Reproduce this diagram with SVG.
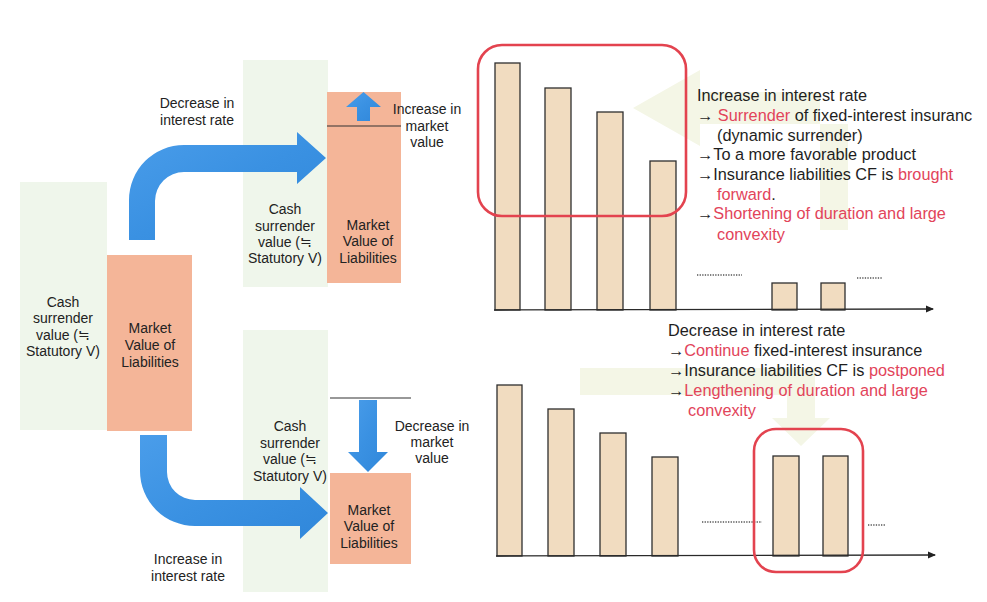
<svg xmlns="http://www.w3.org/2000/svg" width="987" height="602" viewBox="0 0 987 602">
  <defs>
    <linearGradient id="blueFill" x1="0" y1="0" x2="1" y2="1">
      <stop offset="0" stop-color="#4a9dea"/>
      <stop offset="0.5" stop-color="#3a91e2"/>
      <stop offset="1" stop-color="#3087da"/>
    </linearGradient>
    <marker id="axisHead" markerWidth="8" markerHeight="8" refX="7" refY="4" orient="auto" markerUnits="userSpaceOnUse">
      <path d="M0,0.5 L8,4 L0,7.5 Z" fill="#222"/>
    </marker>
    <style>
      .lbl { font-family: "Liberation Sans", Arial, "Noto Sans CJK JP", sans-serif; font-size: 14px; fill: #222; text-anchor: middle; }
      .note { font-family: "Liberation Sans", Arial, "Noto Sans CJK JP", sans-serif; font-size: 16.3px; fill: #1e1e1e; }
      .red { fill: #e2445a; }
      .liab { fill: #f4b598; }
      .bar { fill: #f1dcc0; stroke: #2e2e2e; stroke-width: 1.3; }
      .frame { fill: none; stroke: #e3434f; stroke-width: 2.6; }
      .axis { stroke: #2a2a2a; stroke-width: 1.3; fill: none; }
      .dots { stroke: #555; stroke-width: 1.3; stroke-dasharray: 1.3 1.3; }
      .level { stroke: #333; stroke-width: 1.1; }
      .blue { fill: url(#blueFill); }
      .ghostG { fill: #eff6eb; }
      .ghostY { fill: #f4f6e6; }
    </style>
  </defs>

  <rect width="987" height="602" fill="#ffffff"/>

  <!-- faint background panels -->
  <g id="backdrop">
    <rect class="ghostG" x="20" y="182" width="87" height="248"/>
    <rect class="ghostG" x="243" y="60" width="85" height="227"/>
    <rect class="ghostG" x="243" y="330" width="85" height="262"/>
    <path class="ghostY" d="M700,70 L700,92 L820,92 L820,230 L848,230 L848,124 L700,124 L700,146 L633,108 Z"/>
    <path class="ghostY" d="M580,368 L787,368 L787,395 L580,395 Z M787,368 L815,368 L815,418 L830,418 L801,446 L772,418 L787,418 Z"/>
  </g>

  <!-- connectors: interest-rate arrows and value-change arrows -->
  <g id="connectors">
    <path class="blue" d="M129,240 V200 A55,55 0 0 1 184,145 H297 V132 L326,158 L297,184 V172 H184 A29,29 0 0 0 155,201 V240 Z"/>
    <path class="blue" d="M140,435 V471 A55,55 0 0 0 195,526 H300 V539 L328,513 L300,487 V500 H195 A28,28 0 0 1 167,472 V435 Z"/>
  </g>

  <!-- left: current liabilities -->
  <g id="liab-now">
    <rect class="liab" x="107" y="255" width="85" height="176"/>
    <text class="lbl" x="150" y="333">Market</text>
    <text class="lbl" x="150" y="350">Value of</text>
    <text class="lbl" x="150" y="367">Liabilities</text>
  </g>
  <g id="csv-now">
    <text class="lbl" x="63" y="307">Cash</text>
    <text class="lbl" x="63" y="323">surrender</text>
    <text class="lbl" x="63" y="340">value (≒</text>
    <text class="lbl" x="63" y="356">Statutory V)</text>
  </g>

  <!-- upper branch: rate falls -->
  <g id="label-rate-down">
    <text class="lbl" x="197" y="108">Decrease in</text>
    <text class="lbl" x="197" y="125">interest rate</text>
  </g>
  <g id="liab-up">
    <rect class="liab" x="327" y="92" width="74" height="191"/>
    <line class="level" x1="327" y1="126" x2="401" y2="126"/>
    <path class="blue" d="M357,121 V107 H346 L363.5,92 L381,107 H370 V121 Z"/>
    <text class="lbl" x="368" y="230">Market</text>
    <text class="lbl" x="368" y="246">Value of</text>
    <text class="lbl" x="368" y="263">Liabilities</text>
  </g>
  <g id="label-mv-up">
    <text class="lbl" x="427" y="114">Increase in</text>
    <text class="lbl" x="427" y="131">market</text>
    <text class="lbl" x="427" y="147">value</text>
  </g>
  <g id="csv-up">
    <text class="lbl" x="285" y="214">Cash</text>
    <text class="lbl" x="285" y="231">surrender</text>
    <text class="lbl" x="285" y="247">value (≒</text>
    <text class="lbl" x="285" y="263">Statutory V)</text>
  </g>

  <!-- lower branch: rate rises -->
  <g id="liab-down">
    <line class="level" x1="330" y1="398" x2="411" y2="398"/>
    <path class="blue" d="M359,400 H377 V452 H388 L368,472 L348,452 H359 Z"/>
    <rect class="liab" x="330" y="473" width="81" height="91"/>
    <text class="lbl" x="369" y="515">Market</text>
    <text class="lbl" x="369" y="531">Value of</text>
    <text class="lbl" x="369" y="548">Liabilities</text>
  </g>
  <g id="label-mv-down">
    <text class="lbl" x="432" y="431">Decrease in</text>
    <text class="lbl" x="432" y="447">market</text>
    <text class="lbl" x="432" y="463">value</text>
  </g>
  <g id="csv-down">
    <text class="lbl" x="290" y="431">Cash</text>
    <text class="lbl" x="290" y="448">surrender</text>
    <text class="lbl" x="290" y="464">value (≒</text>
    <text class="lbl" x="290" y="481">Statutory V)</text>
  </g>
  <g id="label-rate-up">
    <text class="lbl" x="188" y="564">Increase in</text>
    <text class="lbl" x="188" y="581">interest rate</text>
  </g>

  <!-- upper cash-flow chart: surrenders pull CF forward -->
  <g id="cf-forward">
    <rect class="bar" x="495" y="63" width="25" height="247"/>
    <rect class="bar" x="545" y="88" width="26" height="222"/>
    <rect class="bar" x="597" y="112" width="26" height="198"/>
    <rect class="bar" x="650" y="161" width="26" height="149"/>
    <rect class="bar" x="772" y="283" width="25" height="27"/>
    <rect class="bar" x="821" y="283" width="24" height="27"/>
    <line class="dots" x1="697" y1="275" x2="742" y2="275"/>
    <line class="dots" x1="857" y1="278" x2="883" y2="278"/>
    <line class="axis" x1="494" y1="310" x2="933" y2="309" marker-end="url(#axisHead)"/>
    <rect class="frame" x="478" y="45" width="208" height="171" rx="24"/>
  </g>
  <g id="note-rate-up">
    <text class="note" x="697" y="101">Increase in interest rate</text>
    <text class="note" x="697" y="121">→ <tspan class="red">Surrender</tspan> of fixed-interest insuranc</text>
    <text class="note" x="717" y="141">(dynamic surrender)</text>
    <text class="note" x="697" y="160">→To a more favorable product</text>
    <text class="note" x="697" y="180">→Insurance liabilities CF is <tspan class="red">brought</tspan></text>
    <text class="note" x="717" y="200"><tspan class="red">forward</tspan>.</text>
    <text class="note" x="697" y="219">→<tspan class="red">Shortening of duration and large</tspan></text>
    <text class="note red" x="717" y="240">convexity</text>
  </g>

  <!-- lower cash-flow chart: continued policies push CF back -->
  <g id="cf-postponed">
    <rect class="bar" x="497" y="385" width="25" height="171"/>
    <rect class="bar" x="548" y="409" width="26" height="147"/>
    <rect class="bar" x="600" y="433" width="26" height="123"/>
    <rect class="bar" x="652" y="457" width="26" height="99"/>
    <rect class="bar" x="773" y="456" width="26" height="100"/>
    <rect class="bar" x="823" y="456" width="25" height="100"/>
    <line class="dots" x1="702" y1="522" x2="762" y2="522"/>
    <line class="dots" x1="868" y1="525" x2="885" y2="525"/>
    <line class="axis" x1="496" y1="556" x2="935" y2="555" marker-end="url(#axisHead)"/>
    <rect class="frame" x="754" y="429" width="109" height="143" rx="22"/>
  </g>
  <g id="note-rate-down">
    <text class="note" x="668" y="336">Decrease in interest rate</text>
    <text class="note" x="668" y="356">→<tspan class="red">Continue</tspan> fixed-interest insurance</text>
    <text class="note" x="668" y="376">→Insurance liabilities CF is <tspan class="red">postponed</tspan></text>
    <text class="note" x="668" y="396">→<tspan class="red">Lengthening of duration and large</tspan></text>
    <text class="note red" x="688" y="416">convexity</text>
  </g>
</svg>
